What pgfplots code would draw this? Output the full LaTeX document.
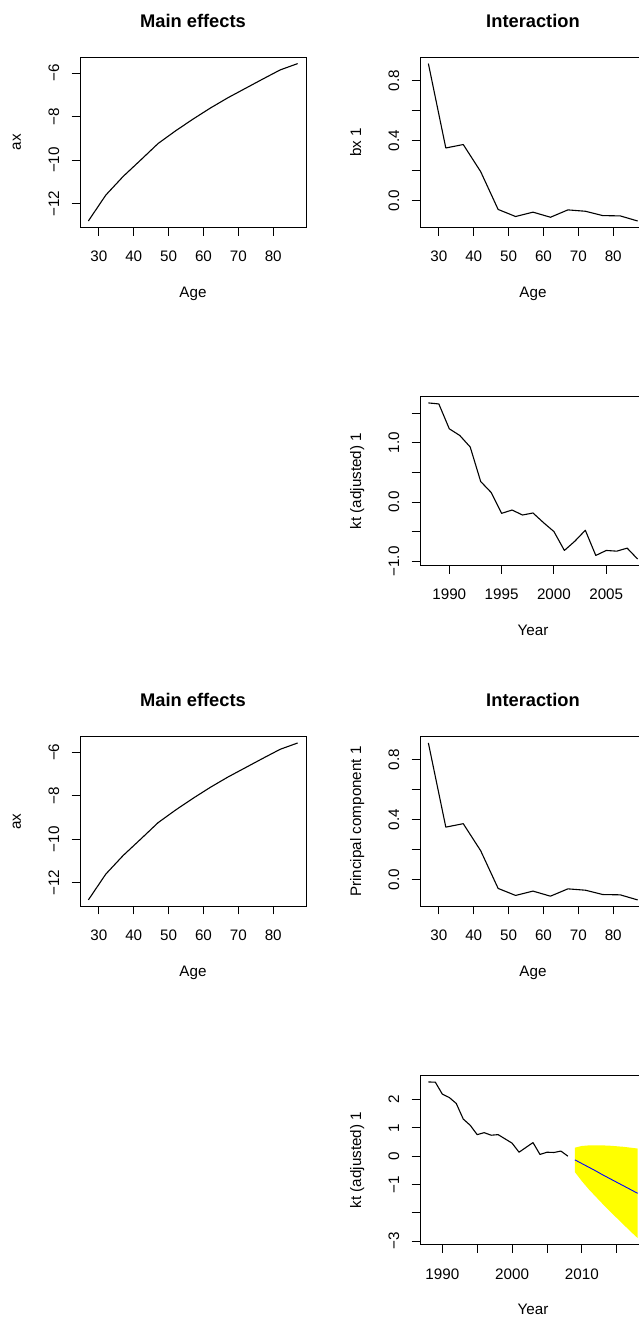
\documentclass[border=0pt]{standalone}
\usepackage{fontspec}
\setmainfont{Liberation Sans}
\usepackage{pgfplots}
\pgfplotsset{compat=1.18}
\newcommand{\basefont}{\fontsize{15.2}{18}\selectfont}
\pgfplotsset{
  rstyle/.style={
    scale only axis, width=226pt,
    axis line style={line width=0.9pt, black},
    tick style={line width=0.9pt, black},
    tick align=outside, major tick length=8.3pt,
    xtick pos=left, ytick pos=left,
    minor tick num=0,
    /pgf/number format/assume math mode=true,
    tick label style={font=\basefont},
    xticklabel style={anchor=base, inner sep=0pt, yshift=-26.4pt},
    yticklabel style={xshift=-12.5pt, rotate=90, anchor=base, inner sep=0pt},
    every axis x label/.style={at={(axis description cs:0.5,0)}, yshift=-70.5pt, anchor=base, inner sep=0pt, font=\basefont},
    every axis y label/.style={at={(axis description cs:0,0.5)}, xshift=-59pt, rotate=90, anchor=base, inner sep=0pt, font=\basefont},
    every axis title/.style={at={(axis description cs:0.5,1)}, yshift=30pt, anchor=base, inner sep=0pt, font=\bfseries\fontsize{18.3}{22}\selectfont},
    every axis plot/.append style={line join=round},
  },
  axplot/.style={rstyle, xmin=24.6, xmax=89.4, ymin=-13.09, ymax=-5.28,
    xtick={30,40,50,60,70,80}, xticklabels={30,40,50,60,70,80},
    ytick={-12,-10,-8,-6}, yticklabels={−12,−10,−8,−6}},
  bxplot/.style={rstyle, xmin=24.6, xmax=89.4, ymin=-0.179, ymax=0.955,
    xtick={30,40,50,60,70,80}, xticklabels={30,40,50,60,70,80},
    ytick={0,0.2,0.4,0.6,0.8}, yticklabels={0.0,,0.4,,0.8}},
}
\pgfplotstableread{
age ax
27 -12.80
32 -11.61
37 -10.75
42 -10.00
47 -9.24
52 -8.66
57 -8.12
62 -7.61
67 -7.14
72 -6.71
77 -6.28
82 -5.86
87 -5.57
}\axdata
\pgfplotstableread{
age bx
27 0.913
32 0.350
37 0.373
42 0.192
47 -0.060
52 -0.107
57 -0.078
62 -0.112
67 -0.063
72 -0.072
77 -0.101
82 -0.103
87 -0.137
}\bxdata
\pgfplotstableread{
year kt
1988 1.670
1989 1.653
1990 1.234
1991 1.122
1992 0.927
1993 0.346
1994 0.162
1995 -0.190
1996 -0.134
1997 -0.218
1998 -0.184
1999 -0.346
2000 -0.497
2001 -0.815
2002 -0.659
2003 -0.475
2004 -0.899
2005 -0.815
2006 -0.827
2007 -0.776
2008 -0.960
}\ktdata
\pgfplotstableread{
year kt
1988 2.62
1989 2.61
1990 2.19
1991 2.07
1992 1.86
1993 1.31
1994 1.09
1995 0.76
1996 0.83
1997 0.74
1998 0.76
1999 0.61
2000 0.46
2001 0.14
2002 0.31
2003 0.48
2004 0.06
2005 0.14
2006 0.13
2007 0.18
2008 0.00
}\ktbdata
\pgfplotstableread{
year mean
2009 -0.13
2010 -0.26
2011 -0.39
2012 -0.52
2013 -0.66
2014 -0.79
2015 -0.92
2016 -1.05
2017 -1.18
2018 -1.31
}\fcdata
\pgfplotstableread{
year band
2009 0.30
2010 0.36
2011 0.38
2012 0.385
2013 0.38
2014 0.37
2015 0.35
2016 0.33
2017 0.30
2018 0.27
2018 -2.89
2017 -2.66
2016 -2.42
2015 -2.18
2014 -1.94
2013 -1.69
2012 -1.43
2011 -1.17
2010 -0.88
2009 -0.56
}\banddata
\begin{document}
\begin{tikzpicture}
\useasboundingbox (0,0) rectangle (639pt,1320pt);
\clip (0,0) rectangle (639pt,1320pt);
% Panel 1
\begin{axis}[axplot, at={(80pt,1092.7pt)}, anchor=south west, height=170pt,
  title={Main effects}, xlabel={Age}, ylabel={ax}]
\addplot[black, line width=1.1pt, mark=none] table[x=age, y=ax] {\axdata};
\end{axis}
% Panel 2
\begin{axis}[bxplot, at={(420pt,1092.7pt)}, anchor=south west, height=170pt,
  title={Interaction}, xlabel={Age}, ylabel={bx 1}]
\addplot[black, line width=1.1pt, mark=none] table[x=age, y=bx] {\bxdata};
\end{axis}
% Panel 3
\begin{axis}[rstyle, at={(420pt,754.7pt)}, anchor=south west, height=168.6pt,
  xmin=1987.2, xmax=2008.8, ymin=-1.065, ymax=1.775,
  xtick={1990,1995,2000,2005}, xticklabels={1990,1995,2000,2005},
  ytick={-1,-0.5,0,0.5,1,1.5}, yticklabels={−1.0,,0.0,,1.0,},
  xlabel={Year}, ylabel={kt (adjusted) 1}]
\addplot[black, line width=1.1pt, mark=none] table[x=year, y=kt] {\ktdata};
\end{axis}
% Panel 4
\begin{axis}[axplot, at={(80pt,413.8pt)}, anchor=south west, height=169.5pt,
  title={Main effects}, xlabel={Age}, ylabel={ax}]
\addplot[black, line width=1.1pt, mark=none] table[x=age, y=ax] {\axdata};
\end{axis}
% Panel 5
\begin{axis}[bxplot, at={(420pt,413.8pt)}, anchor=south west, height=169.5pt,
  title={Interaction}, xlabel={Age}, ylabel={Principal component 1}]
\addplot[black, line width=1.1pt, mark=none] table[x=age, y=bx] {\bxdata};
\end{axis}
% Panel 6
\begin{axis}[rstyle, at={(420pt,75.7pt)}, anchor=south west, height=168.6pt,
  xmin=1986.8, xmax=2019.2, ymin=-3.11, ymax=2.84,
  xtick={1990,1995,2000,2005,2010,2015}, xticklabels={1990,,2000,,2010,},
  ytick={-3,-2,-1,0,1,2}, yticklabels={−3,,−1,0,1,2},
  xlabel={Year}, ylabel={kt (adjusted) 1}]
\addplot[fill={rgb,255:red,255;green,255;blue,0}, draw=none, mark=none] table[x=year, y=band] {\banddata} -- cycle;
\addplot[black, line width=1.1pt, mark=none] table[x=year, y=kt] {\ktbdata};
\addplot[blue, line width=0.9pt, mark=none] table[x=year, y=mean] {\fcdata};
\end{axis}
\end{tikzpicture}
\end{document}
